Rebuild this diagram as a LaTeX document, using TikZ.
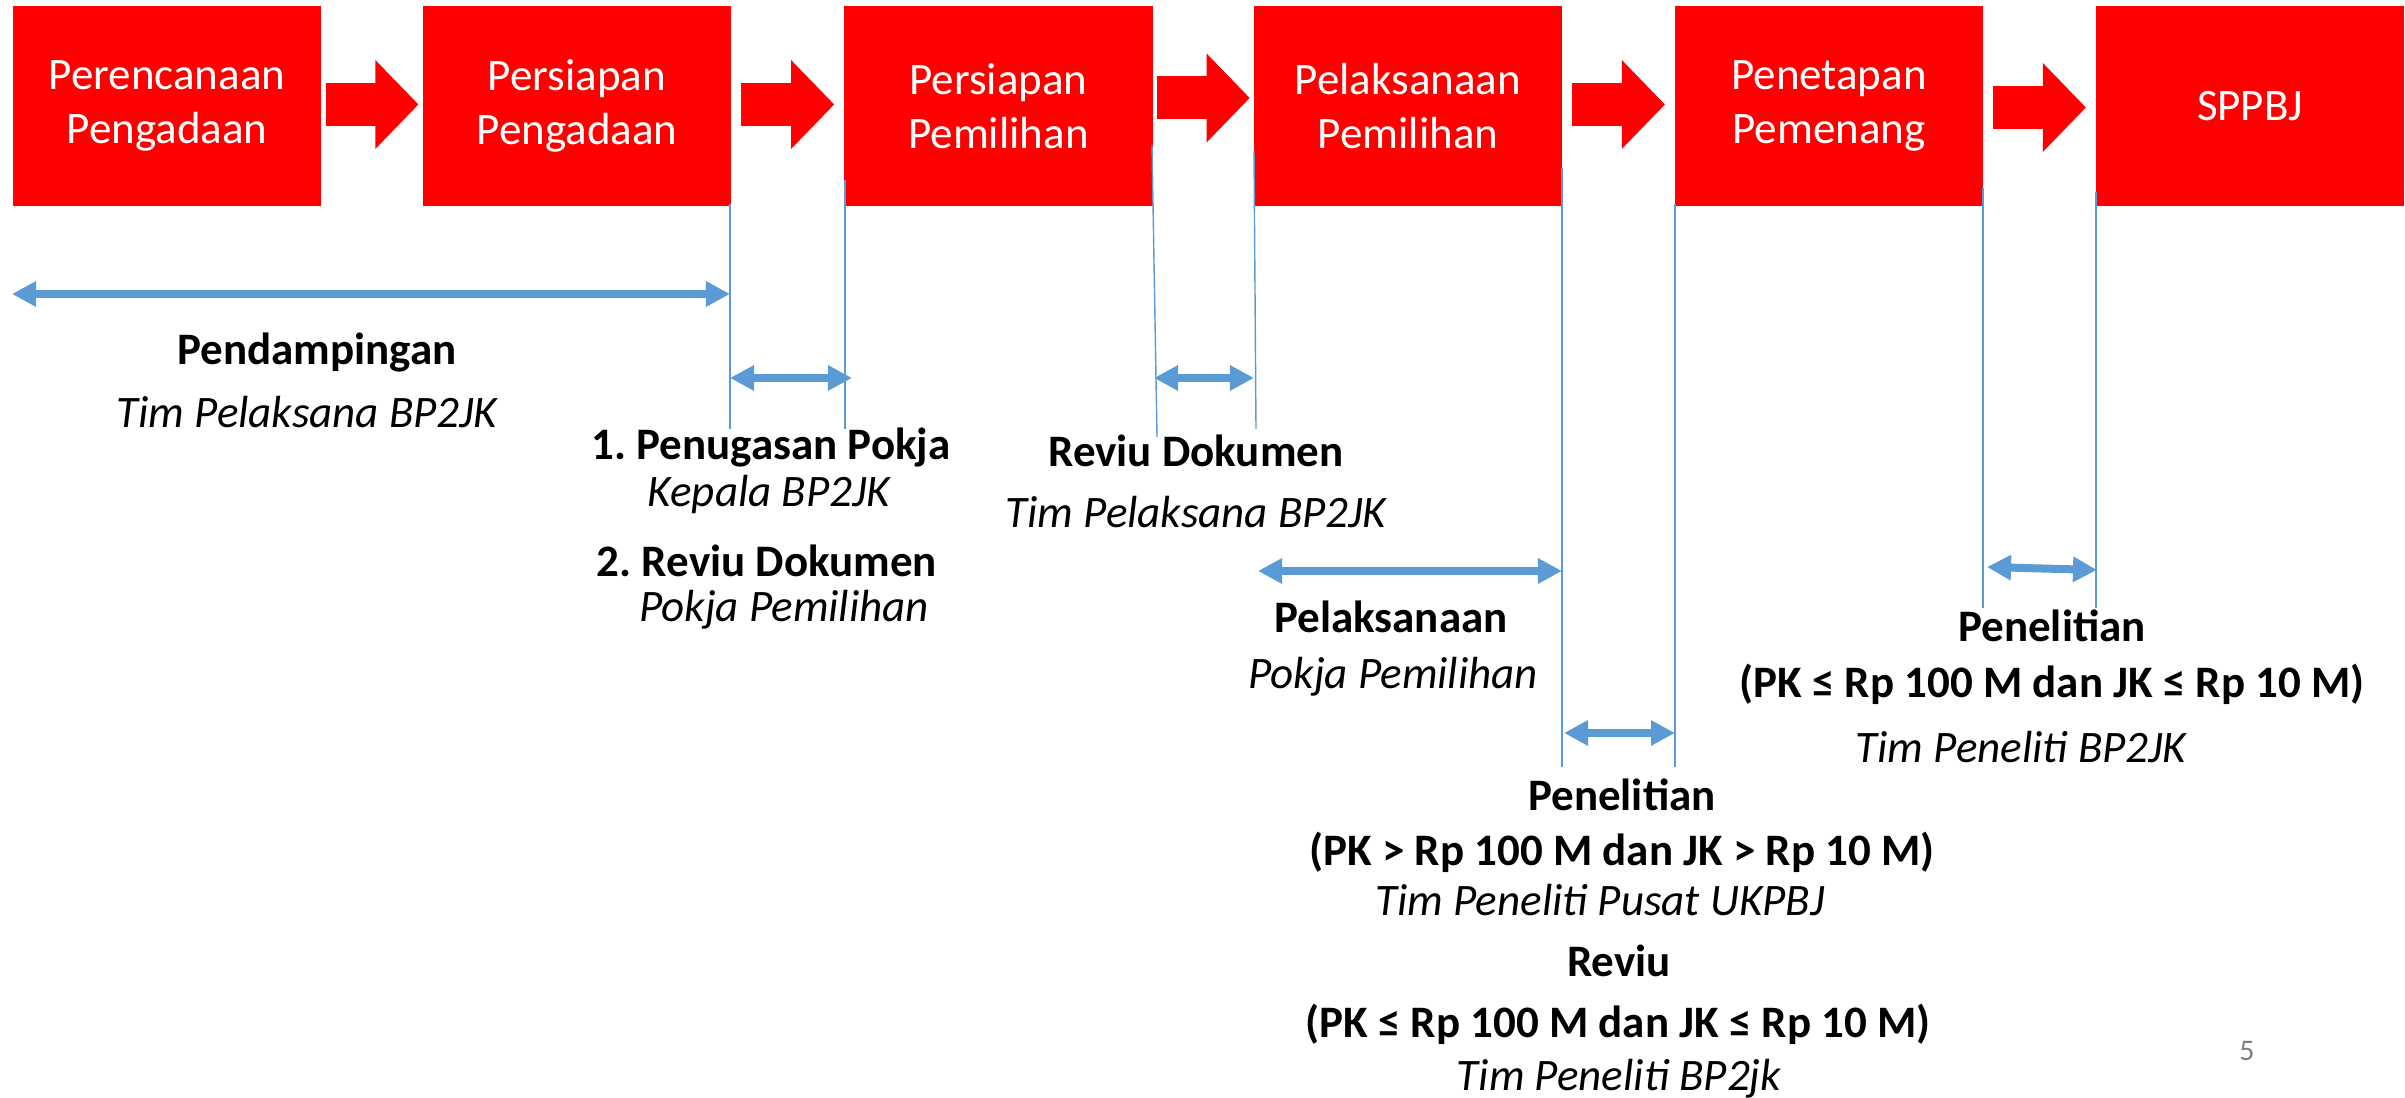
\documentclass[tikz,border=0pt]{standalone}
\usepackage{fontspec}
\setmainfont{Carlito}
\usetikzlibrary{arrows.meta,calc}
\definecolor{garis}{RGB}{91,155,213}
\frenchspacing

\begin{document}
\begin{tikzpicture}[x=0.01cm,y=-0.01cm,
            font=\fontsize{12.8}{15.4}\selectfont,
            tahap/.style={fill=red,text=white,align=center,minimum width=3.08cm,minimum height=1.99cm,inner sep=0pt},
            alur/.style={red,line width=0.43cm,-{Triangle[length=0.43cm,width=0.86cm]}},
            batas/.style={draw=garis,line width=0.4pt},
            rentang/.style={draw=garis,line width=0.08cm,{Triangle[length=0.24cm,width=0.24cm]}-{Triangle[length=0.24cm,width=0.24cm]}},
            judul/.style={anchor=base,font=\fontsize{12.8}{15.4}\selectfont\bfseries},
            pelaku/.style={anchor=base,font=\fontsize{12.8}{15.4}\selectfont\itshape}]
            \useasboundingbox (0,0) rectangle (2405,1098);
            \node[tahap] (b1) at (167,106) {Perencanaan\\Pengadaan};
            \node[tahap] (b2) at (577,106) {Persiapan\\Pengadaan};
            \node[tahap] (b3) at (998.5,106) {Persiapan\\Pemilihan};
            \node[tahap] (b4) at (1408,106) {Pelaksanaan\\Pemilihan};
            \node[tahap] (b5) at (1829,106) {Penetapan\\Pemenang};
            \node[tahap] (b6) at (2250,106) {SPPBJ};
            \draw[alur] ($(b1.east)!0.5!(b2.west)+(-46.5,-1.5)$) -- +(93,0);
            \draw[alur] ($(b2.east)!0.5!(b3.west)+(-46.5,-1.5)$) -- +(93,0);
            \draw[alur] ($(b3.east)!0.5!(b4.west)+(-46.5,-8)$) -- +(93,0);
            \draw[alur] ($(b4.east)!0.5!(b5.west)+(-46.5,-1.5)$) -- +(93,0);
            \draw[alur] ($(b5.east)!0.5!(b6.west)+(-46.5,1.5)$) -- +(93,0);
            \coordinate (g1a) at (730,204);
            \coordinate (g1b) at (730,429);
            \coordinate (g2a) at (845,180);
            \coordinate (g2b) at (845,429);
            \coordinate (g3a) at (1152,145);
            \coordinate (g3b) at (1157,437);
            \coordinate (g4a) at (1254,151);
            \coordinate (g4b) at (1256,429);
            \coordinate (g5a) at (1562,168);
            \coordinate (g5b) at (1562,767);
            \coordinate (g6a) at (1675,204);
            \coordinate (g6b) at (1675,767);
            \coordinate (g7a) at (1983,188);
            \coordinate (g7b) at (1983,608);
            \coordinate (g8a) at (2096,192);
            \coordinate (g8b) at (2096,608);
            \draw[batas] (g1a) -- (g1b);
            \draw[batas] (g2a) -- (g2b);
            \draw[batas] (g3a) -- (g3b);
            \draw[batas] (g4a) -- (g4b);
            \draw[batas] (g5a) -- (g5b);
            \draw[batas] (g6a) -- (g6b);
            \draw[batas] (g7a) -- (g7b);
            \draw[batas] (g8a) -- (g8b);
            \coordinate (r1a) at (12,294);
            \coordinate (r1b) at (730,294);
            \coordinate (r2a) at (730,378);
            \coordinate (r2b) at (852,378);
            \coordinate (r3a) at (1154,378);
            \coordinate (r3b) at (1254,378);
            \coordinate (r4a) at (1258,571);
            \coordinate (r4b) at (1562,571);
            \coordinate (r5a) at (1564,733);
            \coordinate (r5b) at (1675,733);
            \coordinate (r6a) at (1987,567);
            \coordinate (r6b) at (2097,570);
            \draw[rentang] (r1a) -- (r1b);
            \draw[rentang] (r2a) -- (r2b);
            \draw[rentang] (r3a) -- (r3b);
            \draw[rentang] (r4a) -- (r4b);
            \draw[rentang] (r5a) -- (r5b);
            \draw[rentang] (r6a) -- (r6b);
            \node[judul] (pend) at (317,365) {Pendampingan};
            \node[pelaku] (pendtim) at (307,428) {Tim Pelaksana BP2JK};
            \node[judul] (tugas) at (771,460) {1. Penugasan Pokja};
            \node[pelaku] (tugastim) at (769,507) {Kepala BP2JK};
            \node[judul] (reviua) at (767,577) {2. Reviu Dokumen};
            \node[pelaku] (reviuatim) at (784,622) {Pokja Pemilihan};
            \node[judul] (reviub) at (1196,467) {Reviu Dokumen};
            \node[pelaku] (reviubtim) at (1196,528) {Tim Pelaksana BP2JK};
            \node[judul] (laks) at (1391,633) {Pelaksanaan};
            \node[pelaku] (lakstim) at (1393,689) {Pokja Pemilihan};
            \node[judul] (telitia) at (2052,642) {Penelitian};
            \node[judul] (telitiaket) at (2052,698) {(PK ≤ Rp 100 M dan JK ≤ Rp 10 M)};
            \node[pelaku] (telitiatim) at (2021,763) {Tim Peneliti BP2JK};
            \node[judul] (telitib) at (1622,811) {Penelitian};
            \node[judul] (telitibket) at (1622,866) {(PK > Rp 100 M dan JK > Rp 10 M)};
            \node[pelaku] (telitibtim) at (1600,916) {Tim Peneliti Pusat UKPBJ};
            \node[judul] (reviuc) at (1619,977) {Reviu};
            \node[judul] (reviucket) at (1618,1038) {(PK ≤ Rp 100 M dan JK ≤ Rp 10 M)};
            \node[pelaku] (reviuctim) at (1619,1091) {Tim Peneliti BP2jk};
            \node[anchor=base,text=gray,font=\fontsize{8.5}{10}\selectfont] (hal) at (2247,1061) {5};
        \end{tikzpicture}
\end{document}
